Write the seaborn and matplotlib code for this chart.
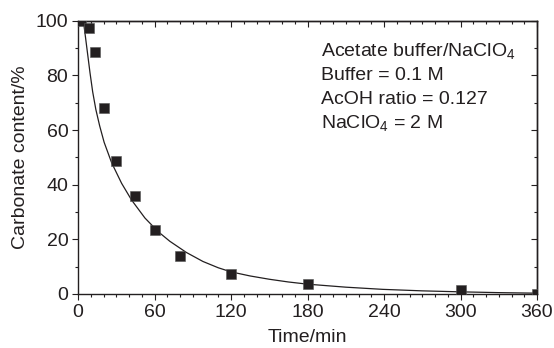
import matplotlib
matplotlib.use("Agg")
import matplotlib.pyplot as plt
from matplotlib.ticker import MultipleLocator
import seaborn as sns
import pandas as pd

# measured data
time_min = [2.5, 8.5, 13, 20, 30, 45, 60, 80, 120, 180, 300, 360]
carbonate_pct = [100, 97.3, 88.5, 68, 48.5, 36, 23.5, 14, 7.5, 3.6, 1.3, 0]

# fitted curve
fit_time = [3.2, 4.2, 6, 9.4, 11.5, 14, 17, 20.5, 26.4, 34.2, 42, 52.5, 62.9, 72, 85, 98, 110, 120,
            135, 150, 165, 180, 210, 239, 270, 299, 330, 360]
fit_pct = [104, 100, 93.5, 81, 74, 67.5, 61.5, 55.5, 48, 40.5, 34.4, 27.8, 22.8, 19.3, 15.2, 11.9, 9.6, 8.1,
           6.6, 5.4, 4.4, 3.6, 2.5, 1.7, 1.15, 0.8, 0.5, 0.3]

x_ticks = [0, 60, 120, 180, 240, 300, 360]
y_ticks = [0, 20, 40, 60, 80, 100]

note_lines = ["Acetate buffer/NaClO$_4$", "Buffer = 0.1 M", "AcOH ratio = 0.127", "NaClO$_4$ = 2 M"]

sns.set_style("ticks")
plt.rcParams['font.family'] = ['Liberation Sans', 'DejaVu Sans']
plt.rcParams['mathtext.fontset'] = 'custom'
plt.rcParams['mathtext.rm'] = 'Liberation Sans'
plt.rcParams['mathtext.it'] = 'Liberation Sans:italic'
plt.rcParams['mathtext.bf'] = 'Liberation Sans:bold'
plt.rcParams['mathtext.default'] = 'regular'

FS = 14
ink = "#231f20"
fig = plt.figure(figsize=(5.54, 3.48), dpi=100)
ax = fig.add_axes([78 / 554, 1 - 294 / 348, (537 - 78) / 554, (294 - 20.7) / 348])

df_pts = pd.DataFrame({"t": time_min, "c": carbonate_pct})
df_fit = pd.DataFrame({"t": fit_time, "c": fit_pct})

sns.lineplot(data=df_fit, x="t", y="c", ax=ax, color=ink, linewidth=0.9, sort=True, zorder=2)
sns.scatterplot(data=df_pts, x="t", y="c", ax=ax, marker="s", s=48, color=ink,
                edgecolor="#555555", linewidth=0.4, zorder=3)

ax.set_xlim(0, 360)
ax.set_ylim(0, 100)
ax.set_xticks(x_ticks)
ax.set_yticks(y_ticks)
ax.xaxis.set_minor_locator(MultipleLocator(10))
ax.yaxis.set_minor_locator(MultipleLocator(10))

for s in ax.spines.values():
    s.set_visible(True)
    s.set_linewidth(1.0)
    s.set_color(ink)

ax.tick_params(which='major', direction='out', length=4, width=0.8, colors=ink, labelsize=FS, pad=3)
ax.tick_params(which='minor', direction='out', length=2.5, width=0.8, colors=ink)

# mirrored ticks on top and right pointing into the plot
top = ax.secondary_xaxis('top')
top.set_xticks(x_ticks)
top.xaxis.set_minor_locator(MultipleLocator(10))
top.tick_params(which='major', direction='in', length=4, width=0.8, colors=ink, labeltop=False)
top.tick_params(which='minor', direction='in', length=2.5, width=0.8, colors=ink)
right = ax.secondary_yaxis('right')
right.set_yticks(y_ticks)
right.yaxis.set_minor_locator(MultipleLocator(10))
right.tick_params(which='major', direction='in', length=4, width=0.8, colors=ink, labelright=False)
right.tick_params(which='minor', direction='in', length=2.5, width=0.8, colors=ink)
for sa in (top, right):
    for s in sa.spines.values():
        s.set_linewidth(1.0)
        s.set_color(ink)

ax.set_xlabel("Time/min", fontsize=FS, color=ink, labelpad=6)
ax.set_ylabel("Carbonate content/%", fontsize=FS, color=ink, labelpad=5)

baselines = [56, 80.5, 104.5, 128.5]
for line, yb in zip(note_lines, baselines):
    fig.text(321 / 554, 1 - yb / 348, line, fontsize=FS, color=ink, va='baseline', ha='left')

fig.savefig("out.png", dpi=100)
